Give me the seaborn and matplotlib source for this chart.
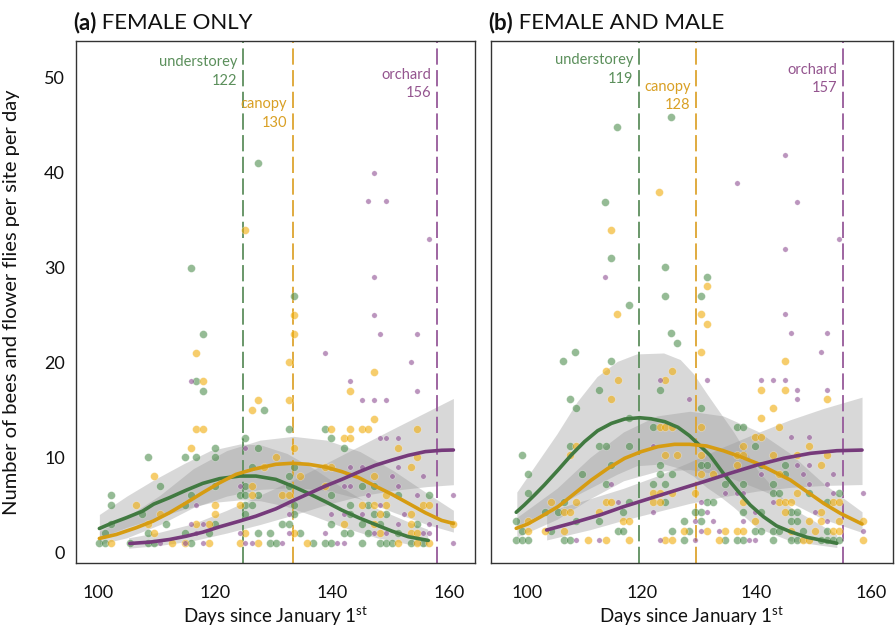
import matplotlib
matplotlib.use("Agg")
import matplotlib.pyplot as plt
import seaborn as sns
import pandas as pd

sns.set_theme(style="white")
plt.rcParams['font.family'] = ['Lato', 'DejaVu Sans']
plt.rcParams['mathtext.fontset'] = 'custom'
plt.rcParams['mathtext.rm'] = 'Lato'
plt.rcParams['mathtext.bf'] = 'Lato:bold'

# ---------------- DATA ----------------
groups = ["understorey", "canopy", "orchard"]

# Panel (a) FEMALE ONLY : observed points (day, count)
a_green_day = [127.3,115.8,133.6,117.9,116.8,117.9,128.4,125.2,120.0,127.3,108.5,114.8,116.8,120.0,126.3,
               110.6,120.0,125.2,102.2,115.8,124.2,125.2,127.3,102.2,114.8,125.2,126.3,107.5,125.2,102.2,111.6,120.0,
               101.2,108.5,114.8,118.9,127.3,129.4,100.1,101.2,105.4,108.5,109.5,115.8,129.4,130.5,
               132.6,138.9,139.9,142.0,133.6,132.6,132.6,145.1,147.2,139.9,151.4,156.6,133.6,143.1,146.2,
               133.6,143.1,147.2,149.3,131.4,132.6,139.9,145.1,148.3,154.5,134.6,142.0,143.1,146.2,151.4,
               136.7,138.9,139.9,145.1,148.3,149.3,150.3,153.5,155.6]
a_green_cnt = [41,30,27,23,18,17,15,12,11,11,10,10,10,10,9,
               7,7,7,6,6,6,6,6,5,5,5,5,4,4,3,3,3,
               2,2,2,2,2,2,1,1,1,1,1,1,1,1,
               13,13,12,11,9,8,7,7,7,6,6,6,5,5,5,
               4,4,4,4,3,3,3,3,3,3,2,2,2,2,2,
               1,1,1,1,1,1,1,1,1]
a_orange_day = [125.2,133.6,133.6,116.8,117.9,127.3,126.3,116.8,117.9,115.8,109.5,128.4,126.3,126.3,106.4,120.0,124.2,
                110.6,120.0,108.5,116.8,118.9,109.5,125.2,102.2,112.7,114.8,118.9,124.2,127.3,130.5,
                132.6,147.2,143.1,132.6,147.2,139.9,143.1,145.1,146.2,154.5,142.0,143.1,133.6,151.4,154.5,138.9,139.9,
                153.5,134.6,147.2,138.9,131.4,132.6,149.3,145.1,147.2,149.3,155.6,156.6,148.3,153.5,142.0,147.2,153.5,
                160.8,133.6,148.3,153.5,154.5,135.7,151.4,154.5,156.6]
a_orange_cnt = [34,25,23,21,18,16,15,13,13,11,8,9,7,6,5,5,5,
                4,4,3,3,3,2,2,1,1,1,1,1,1,10,
                20,19,17,16,14,13,13,13,13,13,12,12,11,11,10,9,9,
                9,8,8,7,6,6,6,5,5,5,5,5,4,4,3,3,3,
                3,2,2,2,2,1,1,1,1]
a_purple_day = [147.2,146.2,149.3,156.6,147.2,147.2,148.2,154.5,115.8,125.2,124.2,116.8,115.8,117.9,116.8,124.2,
                110.6,114.8,117.9,125.2,126.3,138.9,153.5,143.1,154.5,145.1,147.2,149.3,148.3,149.3,151.4,143.1,
                145.1,151.4,150.3,155.6,142.0,143.1,151.4,146.2,154.5,160.8,148.3,132.6,139.9,142.0,145.1,152.4,
                151.4,156.6,132.6,138.9,147.2,149.3,155.6,156.6,131.4,140.9,142.0,160.8]
a_purple_cnt = [40,37,37,33,29,25,23,23,18,11,7,5,3,3,2,2,
                1,1,1,1,1,21,20,18,17,16,16,16,12,12,12,9,
                9,9,8,8,7,7,7,6,6,6,5,4,4,4,4,4,
                3,3,2,2,2,2,2,2,1,1,1,1]

# Panel (a) fitted curves
a_green_fit_day = [100.2,102.2,104.8,107.6,109.5,112.2,115.1,117.9,120.8,124.2,127.0,130.4,133.2,136.0,
                   138.9,141.7,144.6,147.4,150.3,153.1,156.5]
a_green_fit = [2.48,3.01,3.61,4.31,5.05,5.73,6.53,7.24,7.74,8.01,8.01,7.66,6.96,6.18,
               5.31,4.42,3.61,2.91,2.20,1.61,1.22]
a_orange_fit_day = [100.2,103.1,106.5,109.4,112.2,115.1,117.9,120.8,123.6,126.5,130.4,133.2,136.0,138.9,
                    141.7,144.6,147.4,150.3,153.1,156.0,158.8,160.8]
a_orange_fit = [1.43,1.85,2.56,3.26,4.14,5.20,6.26,7.31,8.19,8.72,9.25,9.36,9.25,8.96,
                8.48,7.84,6.96,6.08,5.13,4.14,3.33,3.01]
a_purple_fit_day = [105.4,108.8,112.2,115.1,117.9,120.8,124.2,127.0,130.4,133.2,136.0,138.9,141.7,
                    144.6,147.4,150.3,153.1,156.0,158.8,160.8]
a_purple_fit = [0.90,1.04,1.32,1.67,2.09,2.66,3.26,3.78,4.55,5.37,6.15,6.96,7.66,
                8.44,9.14,9.70,10.20,10.59,10.73,10.76]
# Panel (a) confidence bands
a_green_band_day = [100.2,104.9,109.5,114.6,119.2,124.3,127.8,132.3,136.9,142.0,147.7,153.4,156.4]
a_green_hi = [3.96,5.9,7.6,9.3,10.7,11.4,11.3,10.4,8.8,6.7,4.6,3.1,2.4]
a_green_lo = [1.5,2.6,3.5,4.5,5.2,5.5,5.4,4.8,3.8,2.6,1.5,0.8,0.55]
a_orange_band_day = [100.2,104.9,110.6,116.3,122.0,127.7,133.4,139.1,144.8,150.5,156.3,160.8]
a_orange_hi = [2.2,3.7,6.0,8.8,10.7,11.8,12.2,11.8,10.6,8.6,6.2,4.4]
a_orange_lo = [0.8,1.5,2.9,4.7,5.9,6.6,6.8,6.5,5.6,4.2,2.9,2.1]
a_purple_band_day = [105.2,110.6,116.3,122.0,127.7,133.4,139.1,144.8,150.5,156.3,160.8]
a_purple_hi = [1.5,2.1,3.0,4.4,6.0,7.6,9.4,11.2,13.0,14.8,16.2]
a_purple_lo = [0.4,0.7,1.2,2.0,2.9,3.9,5.0,5.9,6.5,6.9,7.1]

a_peak_day = [124.8, 133.3, 158.0]
a_peak_label = ["122", "130", "156"]

# Panel (b) FEMALE AND MALE : observed points
b_green_day = [125.1,115.7,113.6,114.7,124.1,131.3,124.1,130.3,117.8,125.1,126.2,108.4,106.3,114.7,
               112.6,123.1,107.4,108.5,117.8,122.0,107.4,112.6,113.7,117.8,99.1,114.7,123.1,100.1,109.5,123.1,125.2,
               113.7,122.0,124.1,100.1,106.4,117.8,124.1,103.2,105.3,116.8,98.0,108.5,112.6,127.3,
               99.1,104.2,115.8,116.8,125.2,128.3,98.0,99.1,100.1,106.4,107.4,127.3,
               130.3,136.6,137.6,139.8,130.3,131.4,140.8,145.0,145.0,134.5,137.6,142.8,142.8,143.9,149.1,154.4,
               131.4,132.4,152.3,129.3,130.3,137.6,140.8,146.0,147.0,130.3,146.0,147.0,139.8,140.8,142.8,143.9,
               148.1,152.3,134.5,136.6,137.6,142.8,146.0,147.0,151.2,152.3,153.3,154.4]
b_green_cnt = [46,45,37,31,30,29,27,27,26,23,22,21,20,20,
               17,17,16,15,14,13,11,11,11,11,10,9,9,8,8,8,8,
               7,7,7,6,5,5,5,4,4,4,3,3,3,3,
               2,2,2,2,2,2,1,1,1,1,1,1,
               15,13,13,11,9,9,9,9,8,7,7,7,6,6,6,6,
               5,5,5,4,4,4,4,4,4,3,3,3,2,2,2,2,
               2,2,1,1,1,1,1,1,1,1,1,1]
b_orange_day = [123.0,114.7,131.3,115.7,130.3,131.3,113.7,125.2,115.8,124.1,114.7,123.1,124.1,125.2,108.5,107.4,
                124.1,126.2,122.0,123.1,125.2,104.2,108.5,113.7,114.7,122.0,123.1,106.4,107.4,112.6,100.1,116.8,
                117.8,100.1,103.2,106.4,127.3,110.6,113.7,117.8,124.1,125.2,
                130.3,145.0,140.8,145.0,152.3,142.8,140.8,130.3,143.9,139.8,140.8,137.6,149.1,130.3,136.6,137.6,
                142.8,147.0,152.3,136.6,151.2,130.3,132.4,143.9,129.3,147.0,137.6,143.9,145.0,146.0,153.3,154.4,
                145.0,151.2,139.8,149.1,151.2,154.4,158.5,131.4,134.5,136.6,137.6,146.0,150.2,153.3,154.4,
                133.5,148.1,149.1,158.5]
b_orange_cnt = [38,34,28,25,25,24,19,19,18,18,16,13,13,13,11,10,
                10,10,6,6,6,5,5,5,5,5,5,4,4,4,3,3,
                3,2,2,2,2,1,1,1,1,1,
                21,20,17,17,16,15,14,13,13,12,12,11,11,10,10,10,
                10,10,10,9,9,8,8,8,6,6,5,5,5,5,5,5,
                4,4,3,3,3,3,3,2,2,2,2,2,2,2,2,
                1,1,1,1]
b_purple_day = [145.0,136.6,147.0,154.3,145.0,113.6,145.0,146.0,152.3,123.1,122.0,114.7,115.8,122.0,108.5,112.6,123.1,
                151.2,131.4,140.8,142.8,145.0,147.0,152.3,147.0,128.3,146.0,149.1,147.0,149.1,140.8,148.1,153.3,
                149.1,152.3,134.5,136.6,137.6,153.3,158.5,130.3,142.8,131.4,139.8,150.2,129.3,132.4,137.6,152.3,
                130.3,133.5,158.5,129.3,138.7,139.8]
b_purple_cnt = [42,39,37,33,32,29,25,23,23,18,11,7,5,4,1,1,1,
                21,18,18,18,18,17,17,16,16,12,12,9,9,8,8,8,
                7,7,6,6,6,6,6,5,5,4,4,4,3,3,3,3,
                2,2,2,1,1,1]

# Panel (b) fitted curves
b_green_fit_day = [98.1,99.5,101.3,103.0,105.4,107.7,110.0,112.3,114.7,117.0,119.6,121.6,124.0,126.3,
                   128.3,130.2,131.9,134.2,136.6,138.9,141.2,143.5,145.9,148.8,151.7,154.0]
b_green_fit = [3.95,4.72,5.79,6.85,8.45,10.04,11.46,12.63,13.41,13.87,14.01,13.90,13.59,12.99,
               12.1,11.0,10.0,8.1,6.32,4.72,3.48,2.50,1.88,1.29,0.93,0.65]
b_orange_fit_day = [98.1,100.1,102.4,105.4,108.3,111.2,114.1,117.0,119.9,122.8,125.7,128.3,131.3,134.2,
                    137.2,140.1,143.0,145.9,148.8,151.7,154.6,158.4]
b_orange_fit = [2.24,2.70,3.48,4.55,5.96,7.38,8.62,9.69,10.40,10.93,11.18,11.18,11.00,10.50,
                9.86,9.16,8.27,7.38,6.14,4.90,3.84,2.70]
b_purple_fit_day = [103.4,108.1,112.7,116.8,121.5,126.1,130.8,135.4,140.1,144.7,149.4,154.0,158.4]
b_purple_fit = [2.06,2.84,3.66,4.54,5.44,6.32,7.20,8.10,8.98,9.69,10.22,10.50,10.57]
# Panel (b) confidence bands
b_green_band_day = [98.2,105.2,108.7,112.2,115.7,119.1,123.8,126.7,129.0,131.3,133.7,136.0,140.1,145.9,154.0]
b_green_hi = [6.1,12.3,15.7,18.4,20.0,20.8,20.9,20.2,18.7,16.6,14.5,12.5,8.5,4.5,1.6]
b_green_lo = [2.5,4.6,5.8,6.9,8.0,8.9,9.1,8.6,7.8,6.6,5.6,4.5,2.3,0.9,0.2]
b_orange_band_day = [98.2,105.2,111.0,116.8,122.6,128.4,134.2,140.1,145.9,151.7,158.4]
b_orange_hi = [3.4,6.5,9.8,12.5,14.2,14.7,14.2,12.6,10.2,7.0,4.0]
b_orange_lo = [1.3,3.2,5.4,7.3,8.3,8.5,7.9,6.5,5.0,3.2,1.8]
b_purple_band_day = [103.4,111.0,116.8,122.6,128.4,134.2,140.1,145.9,151.7,158.4]
b_purple_hi = [4.0,5.4,6.5,7.8,9.3,10.9,12.4,13.8,15.0,16.2]
b_purple_lo = [1.0,2.1,3.1,4.0,4.9,5.6,6.2,6.6,6.8,6.9]

b_peak_day = [119.5, 129.5, 155.1]
b_peak_label = ["119", "128", "157"]

x_ticks = [100, 120, 140, 160]
y_ticks = [0, 10, 20, 30, 40, 50]
titles = [("(a)", " FEMALE ONLY"), ("(b)", " FEMALE AND MALE")]
y_label = "Number of bees and flower flies per site per day"
x_label = r"Days since January 1$^{\mathrm{st}}$"

# ---------------- STYLE ----------------
pt_col = {"understorey": "#4f8f4f", "canopy": "#f0ad0a", "orchard": "#8e4e93"}
ln_col = {"understorey": "#417a41", "canopy": "#d69c12", "orchard": "#763a7b"}
dash_col = {"understorey": "#5e8f5e", "canopy": "#dda530", "orchard": "#96599a"}
txt_col = {"understorey": "#5b8f5b", "canopy": "#d9a025", "orchard": "#94558f"}
pt_size = {"understorey": 32, "canopy": 32, "orchard": 15}

fig = plt.figure(figsize=(8.96, 6.27), dpi=100)
ax_a = fig.add_axes([76/896, 64/627, 399/896, 522/627])
ax_b = fig.add_axes([491/896, 64/627, 402/896, 522/627])

panels = [
    dict(ax=ax_a, xlim=(96.2, 164.5), ylim=(-1.16, 53.9),
         pts=[(a_green_day, a_green_cnt), (a_orange_day, a_orange_cnt), (a_purple_day, a_purple_cnt)],
         fits=[(a_green_fit_day, a_green_fit), (a_orange_fit_day, a_orange_fit),
               (a_purple_fit_day, a_purple_fit)],
         bands=[(a_green_band_day, a_green_lo, a_green_hi), (a_orange_band_day, a_orange_lo, a_orange_hi),
                (a_purple_band_day, a_purple_lo, a_purple_hi)],
         peaks=a_peak_day, labels=a_peak_label, label_top=[52.4, 48.0, 51.1]),
    dict(ax=ax_b, xlim=(93.7, 163.8), ylim=(-1.45, 54.1),
         pts=[(b_green_day, b_green_cnt), (b_orange_day, b_orange_cnt), (b_purple_day, b_purple_cnt)],
         fits=[(b_green_fit_day, b_green_fit), (b_orange_fit_day, b_orange_fit),
               (b_purple_fit_day, b_purple_fit)],
         bands=[(b_green_band_day, b_green_lo, b_green_hi), (b_orange_band_day, b_orange_lo, b_orange_hi),
                (b_purple_band_day, b_purple_lo, b_purple_hi)],
         peaks=b_peak_day, labels=b_peak_label, label_top=[52.8, 50.0, 51.8]),
]

for i, p in enumerate(panels):
    ax = p["ax"]
    # confidence bands
    for (d, lo, hi) in p["bands"]:
        ax.fill_between(d, lo, hi, color="#9a9a9a", alpha=0.38, linewidth=0, zorder=1)
    # peak lines
    for g, xd in zip(groups, p["peaks"]):
        ax.axvline(xd, color=dash_col[g], lw=1.3, ls=(0, (9, 3)), zorder=1.5)
    # points
    for g, (d, c) in zip(groups, p["pts"]):
        df = pd.DataFrame({"day": d, "count": c})
        sns.scatterplot(data=df, x="day", y="count", ax=ax, color=pt_col[g], s=pt_size[g],
                        alpha=0.6, edgecolor="white", linewidth=0.3, zorder=2, legend=False)
    # fitted curves
    for g, (d, f) in zip(groups, p["fits"]):
        df = pd.DataFrame({"day": d, "fit": f})
        sns.lineplot(data=df, x="day", y="fit", ax=ax, color=ln_col[g], lw=2.6, zorder=3,
                     errorbar=None, legend=False)
    for ln in ax.lines:
        ln.set_solid_joinstyle("round")
        ln.set_solid_capstyle("round")
    # peak labels
    for g, xd, lab, yt in zip(groups, p["peaks"], p["labels"], p["label_top"]):
        ax.annotate(f"{g}\n{lab}", xy=(xd, yt), xytext=(-4, 0), textcoords="offset points",
                    ha="right", va="top", multialignment="right", color=txt_col[g],
                    fontsize=10.5, linespacing=1.42)
    ax.set_xlim(*p["xlim"])
    ax.set_ylim(*p["ylim"])
    ax.set_xticks(x_ticks)
    ax.tick_params(axis="both", length=0, labelsize=13, colors="#111111")
    ax.tick_params(axis="x", pad=16)
    ax.set_xlabel(x_label, fontsize=13.5, labelpad=2, color="#111111")
    for s in ax.spines.values():
        s.set_visible(True)
        s.set_color("#333333")
        s.set_linewidth(1.0)
    # title
    t1 = fig.text(ax.get_position().x0 - 3/896, 1 - 29/627, titles[i][0], fontsize=16,
                  fontweight="bold", ha="left", va="baseline", color="#111111")
    ax.annotate(titles[i][1], xy=(1, 0), xycoords=t1, va="bottom", ha="left",
                fontsize=16, color="#111111")

ax_a.set_yticks(y_ticks)
ax_a.tick_params(axis="y", pad=8)
ax_a.set_ylabel(y_label, fontsize=14.5, color="#111111")
ax_a.yaxis.set_label_coords(-0.14, 0.5)
ax_b.set_yticks([])
ax_b.set_ylabel("")

fig.savefig("out.png", dpi=100, facecolor="white")
